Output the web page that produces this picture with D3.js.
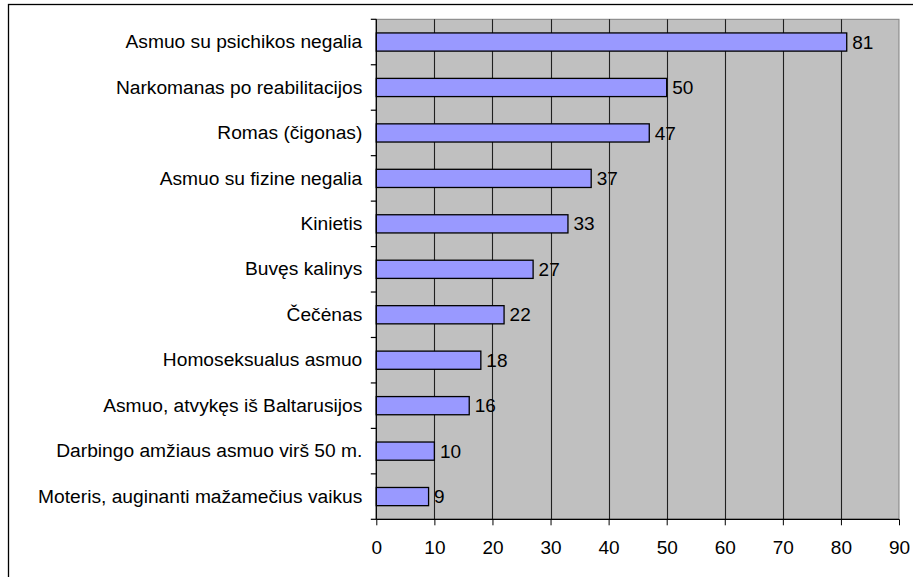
<!DOCTYPE html>
<html><head><meta charset="utf-8">
<script src="https://cdn.jsdelivr.net/npm/d3@7"></script>
<style>
html,body{margin:0;padding:0;background:#fff;}
svg{display:block;}
text{font-family:"Liberation Sans",Arial,sans-serif;fill:#000;}
</style></head>
<body>
<svg id="chart" width="913" height="577"></svg>
<script>
const categories = [
  "Asmuo su psichikos negalia",
  "Narkomanas po reabilitacijos",
  "Romas (čigonas)",
  "Asmuo su fizine negalia",
  "Kinietis",
  "Buvęs kalinys",
  "Čečėnas",
  "Homoseksualus asmuo",
  "Asmuo, atvykęs iš Baltarusijos",
  "Darbingo amžiaus asmuo virš 50 m.",
  "Moteris, auginanti mažamečius vaikus"
];
const values = [81, 50, 47, 37, 33, 27, 22, 18, 16, 10, 9];
const xTicks = [0, 10, 20, 30, 40, 50, 60, 70, 80, 90];

const svg = d3.select("#chart");
const plot = {left: 376.3, right: 899, top: 19.3, bottom: 519.3};

// outer frame (cropped on right & bottom)
svg.append("rect").attr("x", 8.5).attr("y", 4.5).attr("width", 1000).attr("height", 1000)
  .attr("fill", "#fff").attr("stroke", "#000").attr("stroke-width", 1.3);

const x = d3.scaleLinear().domain([0, 90]).range([plot.left, plot.right]);
const y = d3.scaleBand().domain(categories).range([plot.top, plot.bottom]).padding(0);
const barH = y.bandwidth() * 0.4;

// plot background
svg.append("rect").attr("x", x(0)).attr("y", plot.top)
  .attr("width", x(90) - x(0)).attr("height", plot.bottom - plot.top)
  .attr("fill", "#c0c0c0").attr("stroke", "#808080").attr("stroke-width", 1);

// gridlines
svg.append("g").selectAll("line").data(xTicks.filter(d => d > 0 && d < 90)).join("line")
  .attr("x1", d => Math.round(x(d)) + 0.5).attr("x2", d => Math.round(x(d)) + 0.5)
  .attr("y1", plot.top).attr("y2", plot.bottom)
  .attr("stroke", "#202020").attr("stroke-width", 1.1);

// bars
svg.append("g").selectAll("rect").data(values).join("rect")
  .attr("x", x(0))
  .attr("y", (d, i) => y(categories[i]) + (y.bandwidth() - barH) / 2)
  .attr("width", d => x(d) - x(0))
  .attr("height", barH)
  .attr("fill", "#9999ff").attr("stroke", "#000").attr("stroke-width", 1.3);

// value labels
svg.append("g").selectAll("text").data(values).join("text")
  .attr("x", d => x(d) + 5.5)
  .attr("y", (d, i) => y(categories[i]) + y.bandwidth() / 2)
  .attr("dy", "0.35em")
  .attr("font-size", "19px")
  .text(d => d);

// x axis
const xAxis = d3.axisBottom(x).tickValues(xTicks).tickSize(6).tickPadding(15);
const gx = svg.append("g").attr("transform", `translate(0,${plot.bottom})`).call(xAxis);
gx.select(".domain").attr("stroke", "#000").attr("stroke-width", 1.3).attr("d", `M${x(0)},0H${x(90)}`);
gx.selectAll(".tick line").attr("stroke", "#000");
gx.selectAll(".tick text").attr("font-size", "19px").attr("font-family", "Liberation Sans, Arial, sans-serif").attr("fill", "#000");

// y axis
const yAxis = d3.axisLeft(y).tickSize(0).tickPadding(14);
const gy = svg.append("g").attr("transform", `translate(${plot.left},0)`).call(yAxis);
gy.select(".domain").attr("stroke", "#000").attr("stroke-width", 1.3).attr("d", `M0,${plot.top}V${plot.bottom}`);
gy.selectAll(".tick text").attr("font-size", "19.2px").attr("font-family", "Liberation Sans, Arial, sans-serif").attr("fill", "#000");

// y boundary ticks
const bounds = categories.map(c => y(c)).concat([plot.bottom]);
svg.append("g").selectAll("line").data(bounds).join("line")
  .attr("x1", plot.left - 5.5).attr("x2", plot.left)
  .attr("y1", d => d).attr("y2", d => d)
  .attr("stroke", "#000").attr("stroke-width", 1.2);
</script>
</body></html>
